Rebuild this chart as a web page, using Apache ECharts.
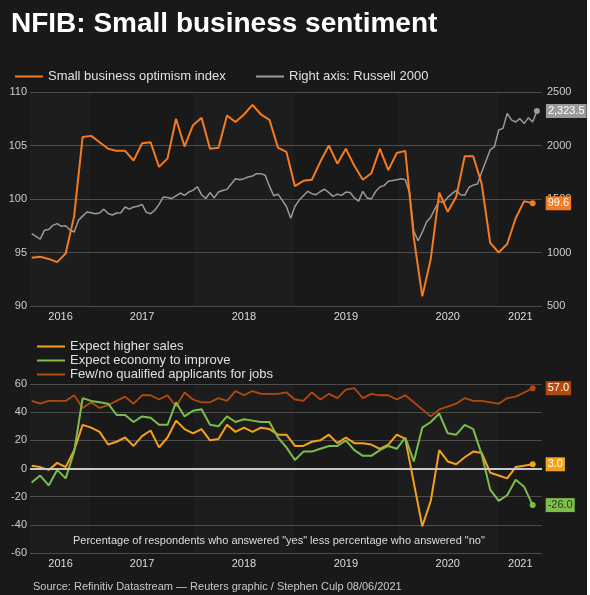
<!DOCTYPE html>
<html>
<head>
<meta charset="utf-8">
<script src="https://cdn.jsdelivr.net/npm/echarts@6/dist/echarts.min.js"></script>
<style>
  html, body { margin: 0; padding: 0; background: #191919; }
  #main { width: 590px; height: 595px; }
</style>
</head>
<body>
<div id="main"></div>
<script>
// monthly data, Jun 2016 .. May 2021 (index 0 = Jun 2016)
var firstYear = 2016, firstMonth = 5;
var years = ['2016', '2017', '2018', '2019', '2020', '2021'];

var optimism = [94.5, 94.6, 94.4, 94.1, 94.9, 98.4, 105.8, 105.9, 105.3, 104.7, 104.5, 104.5,
  103.6, 105.2, 105.3, 103.0, 103.8, 107.5, 104.9, 106.9, 107.6, 104.7, 104.8, 107.8,
  107.2, 107.9, 108.8, 107.9, 107.4, 104.8, 104.4, 101.2, 101.7, 101.8, 103.5, 105.0,
  103.3, 104.7, 103.1, 101.8, 102.4, 104.7, 102.7, 104.3, 104.5, 96.4, 90.9, 94.4,
  100.6, 98.8, 100.2, 104.0, 104.0, 101.4, 95.9, 95.0, 95.8, 98.2, 99.8, 99.6];

// Russell 2000, two readings per month from Jun 2016
var russell = [1176, 1150, 1125, 1207, 1214, 1254, 1270, 1245, 1250, 1210, 1192, 1300,
  1340, 1378, 1372, 1363, 1369, 1405, 1365, 1350, 1369, 1372, 1425, 1405,
  1425, 1432, 1450, 1375, 1363, 1395, 1450, 1519, 1513, 1505, 1530, 1556,
  1534, 1565, 1581, 1615, 1540, 1505, 1560, 1510, 1565, 1580, 1590, 1640,
  1690, 1680, 1690, 1706, 1715, 1737, 1737, 1722, 1620, 1530, 1545, 1490,
  1430, 1320, 1430, 1490, 1530, 1572, 1550, 1540, 1570, 1591, 1560, 1525,
  1545, 1534, 1565, 1560, 1510, 1480, 1572, 1510, 1500, 1570, 1612, 1625,
  1665, 1672, 1680, 1690, 1680, 1560, 1200, 1110, 1190, 1285, 1330, 1410,
  1480, 1465, 1515, 1550, 1581, 1540, 1534, 1610, 1630, 1640, 1752, 1855,
  1960, 1990, 2145, 2160, 2300, 2240, 2220, 2251, 2205, 2260, 2220, 2323.5];

var sales = [2, 1, -1, 4, 1, 13, 31, 29, 26, 17, 19, 22,
  16, 23, 27, 15, 22, 34, 28, 25, 28, 20, 21, 31,
  26, 29, 26, 29, 28, 24, 24, 16, 16, 19, 20, 24,
  18, 22, 18, 18, 17, 14, 17, 24, 21, -10, -41, -23,
  13, 5, 3, 8, 12, 11, -3, -5, -7, 1, 2, 3];

var economy = [-10, -5, -12, -1, -7, 12, 50, 48, 47, 46, 38, 38,
  33, 37, 36, 31, 31, 47, 37, 41, 42, 31, 30, 37,
  33, 35, 34, 33, 33, 22, 15, 6, 12, 12, 14, 16,
  16, 20, 13, 9, 9, 13, 16, 14, 22, 5, 29, 33,
  39, 25, 24, 31, 28, 10, -15, -23, -19, -8, -13, -26];

var applicants = [48, 46, 48, 48, 48, 52, 43, 47, 43, 45, 48, 51,
  46, 52, 52, 49, 52, 44, 54, 49, 47, 47, 50, 48,
  55, 52, 55, 53, 53, 53, 54, 49, 48, 54, 49, 53,
  50, 56, 57, 50, 53, 52, 52, 49, 52, 47, 42, 37,
  42, 44, 46, 50, 48, 48, 47, 46, 50, 51, 54, 57];

var xMin = -0.2, xMax = 60.1;
var font = 'Liberation Sans, Arial, sans-serif';

// year label sits in the middle of the visible part of each year
function janIndex(y) { return (y - firstYear) * 12 - firstMonth; }
var yearPos = years.map(function (y) {
  var a = Math.max(xMin, janIndex(+y)), b = Math.min(xMax, janIndex(+y) + 12);
  return (a + b) / 2;
});
function yearOf(v) { return String(firstYear + Math.floor((v + firstMonth) / 12)); }

// alternate year shading
var bands = [];
years.forEach(function (y, k) {
  if (k % 2 === 0) {
    bands.push([{ xAxis: Math.max(xMin, janIndex(+y)) }, { xAxis: Math.min(xMax, janIndex(+y) + 12) }]);
  }
});

function toPoints(arr, step, dot) {
  return arr.map(function (v, k) {
    if (k === arr.length - 1) {
      return { value: [k * step, v], symbol: 'circle', symbolSize: dot };
    }
    return [k * step, v];
  });
}

function endLbl(bg, fg, dist, fmt) {
  return {
    show: true,
    distance: dist,
    formatter: fmt || function (p) { return p.value[1].toFixed(1); },
    backgroundColor: bg,
    color: fg,
    fontSize: 11,
    fontFamily: font,
    padding: [2, 2, 1, 2]
  };
}

var cOpt = '#f47b20', cRus = '#9a9a9a', cSales = '#f6a11b', cEco = '#7dbd4b', cJobs = '#b4490e';
var gridColor = '#4a4a4a';
var bandColor = 'rgba(255,255,255,0.018)';

function plain(v) { return String(v); }

function xAx(idx, margin) {
  return {
    gridIndex: idx, type: 'value', min: xMin, max: xMax,
    axisLine: { show: false }, axisTick: { show: false }, splitLine: { show: false },
    axisLabel: { customValues: yearPos, formatter: yearOf, color: '#dcdcdc', fontSize: 11, margin: margin, fontFamily: font }
  };
}

var myChart = echarts.init(document.getElementById('main'));
var option = {
  backgroundColor: '#191919',
  animation: false,
  textStyle: { fontFamily: font },
  title: [{
    text: 'NFIB: Small business sentiment',
    left: 11, top: 10, padding: 0,
    textStyle: { color: '#ffffff', fontSize: 28, fontWeight: 'bold', fontFamily: font }
  }, {
    text: 'Percentage of respondents who answered "yes" less percentage who answered "no"',
    left: 73, top: 535, padding: 0,
    textStyle: { color: '#dddddd', fontSize: 11, fontWeight: 'normal', fontFamily: font }
  }, {
    text: 'Source: Refinitiv Datastream \u2014 Reuters graphic / Stephen Culp 08/06/2021',
    left: 33, top: 581, padding: 0,
    textStyle: { color: '#c8c8c8', fontSize: 11, fontWeight: 'normal', fontFamily: font }
  }],
  legend: [{
    data: ['Small business optimism index'],
    left: 15, top: 70, padding: 0, icon: 'rect', itemWidth: 28, itemHeight: 2,
    textStyle: { color: '#e0e0e0', fontSize: 13 }
  }, {
    data: ['Right axis: Russell 2000'],
    left: 256, top: 70, padding: 0, icon: 'rect', itemWidth: 28, itemHeight: 2,
    textStyle: { color: '#e0e0e0', fontSize: 13 }
  }, {
    data: ['Expect higher sales', 'Expect economy to improve', 'Few/no qualified applicants for jobs'],
    orient: 'vertical', left: 37, top: 340, padding: 0, itemGap: 1,
    icon: 'rect', itemWidth: 28, itemHeight: 2,
    textStyle: { color: '#e0e0e0', fontSize: 13 }
  }],
  grid: [
    { left: 30, right: 48, top: 92, height: 214 },
    { left: 30, right: 48, top: 384, height: 169 }
  ],
  xAxis: [xAx(0, 5), xAx(1, 5)],
  yAxis: [{
    gridIndex: 0, type: 'value', min: 90, max: 110, interval: 5, position: 'left',
    axisLine: { show: false }, axisTick: { show: false },
    axisLabel: { color: '#cccccc', fontSize: 11, margin: 3, formatter: plain },
    splitLine: { lineStyle: { color: gridColor, width: 1 } }
  }, {
    gridIndex: 0, type: 'value', min: 500, max: 2500, interval: 500, position: 'right',
    axisLine: { show: false }, axisTick: { show: false },
    axisLabel: { color: '#cccccc', fontSize: 11, margin: 5, formatter: plain },
    splitLine: { show: false }
  }, {
    gridIndex: 1, type: 'value', min: -60, max: 60, interval: 20, position: 'left',
    axisLine: { show: false }, axisTick: { show: false },
    axisLabel: { color: '#cccccc', fontSize: 11, margin: 3, formatter: plain },
    splitLine: { lineStyle: { color: gridColor, width: 1 } }
  }],
  series: [{
    name: 'Right axis: Russell 2000', type: 'line', xAxisIndex: 0, yAxisIndex: 1,
    data: toPoints(russell, 0.5, 6), symbol: 'none', color: cRus,
    lineStyle: { width: 1.5, color: cRus },
    endLabel: endLbl(cRus, '#ffffff', 9, function (p) { return echarts.format.addCommas(p.value[1].toFixed(1)); }),
    markArea: { silent: true, itemStyle: { color: bandColor }, data: bands }
  }, {
    name: 'Small business optimism index', type: 'line', xAxisIndex: 0, yAxisIndex: 0,
    data: toPoints(optimism, 1, 6), symbol: 'none', color: cOpt,
    lineStyle: { width: 2, color: cOpt },
    endLabel: endLbl(cOpt, '#ffffff', 13)
  }, {
    name: 'Few/no qualified applicants for jobs', type: 'line', xAxisIndex: 1, yAxisIndex: 2,
    data: toPoints(applicants, 1, 6), symbol: 'none', color: cJobs,
    lineStyle: { width: 1.8, color: cJobs },
    endLabel: endLbl(cJobs, '#ffffff', 13),
    markArea: { silent: true, itemStyle: { color: bandColor }, data: bands },
    markLine: {
      silent: true, symbol: 'none', label: { show: false },
      lineStyle: { color: '#c8c8c8', width: 2, type: 'solid' },
      data: [{ yAxis: 0 }]
    }
  }, {
    name: 'Expect higher sales', type: 'line', xAxisIndex: 1, yAxisIndex: 2,
    data: toPoints(sales, 1, 6), symbol: 'none', color: cSales,
    lineStyle: { width: 2, color: cSales },
    endLabel: endLbl(cSales, '#ffffff', 13)
  }, {
    name: 'Expect economy to improve', type: 'line', xAxisIndex: 1, yAxisIndex: 2,
    data: toPoints(economy, 1, 6), symbol: 'none', color: cEco,
    lineStyle: { width: 2, color: cEco },
    endLabel: endLbl(cEco, '#2e3d24', 13)
  }],
  graphic: [{
    type: 'rect', left: 587, top: 0, shape: { width: 3, height: 595 },
    style: { fill: '#ffffff' }, silent: true
  }]
};
myChart.setOption(option);
window.onresize = myChart.resize;
</script>
</body>
</html>
